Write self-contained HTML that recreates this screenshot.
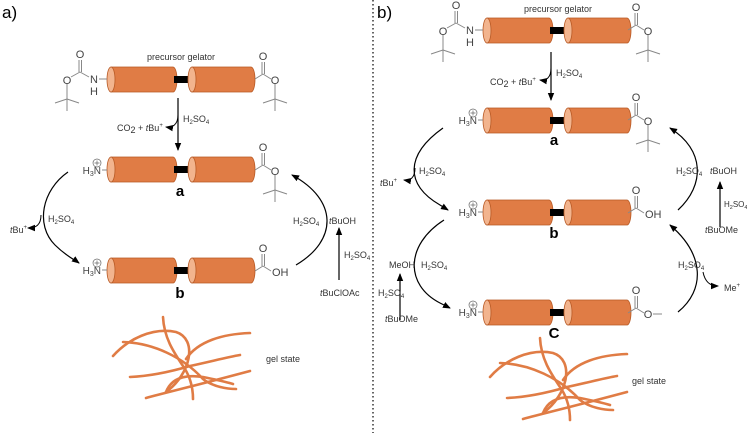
<!DOCTYPE html>
<html><head><meta charset="utf-8"><style>
html,body{margin:0;padding:0;background:#fff;}
svg{display:block;font-family:"Liberation Sans",sans-serif;}
</style></head><body>
<svg width="747" height="433" viewBox="0 0 747 433" xmlns="http://www.w3.org/2000/svg">
<defs>
<g id="cyl">
 <path d="M4,0 H66 A4,12.5 0 0 1 66,25 H4 Z" fill="#e07c45" stroke="#b85a25" stroke-width="0.8"/>
 <ellipse cx="4" cy="12.5" rx="4" ry="12.5" fill="#f2b48e" stroke="#b85a25" stroke-width="0.8"/>
 <rect x="67" y="9" width="18" height="7" fill="#000"/>
 <path d="M85,0 H144 A4,12.5 0 0 1 144,25 H85 Z" fill="#e07c45" stroke="#b85a25" stroke-width="0.8"/>
 <ellipse cx="85" cy="12.5" rx="4" ry="12.5" fill="#f2b48e" stroke="#b85a25" stroke-width="0.8"/>
</g>
<g id="ester" stroke="#888" stroke-width="1" fill="none">
 <path d="M0,0 L8,-5 M7,-5 V-17 M9.5,-5 V-17 M8,-5 L16,0 M20,5 V20 M20,20 L8,24 M20,20 L32,24 M20,20 V32"/>
 <text x="8" y="-19" font-size="11" fill="#444" stroke="none" text-anchor="middle">O</text>
 <text x="20" y="5" font-size="11" fill="#444" stroke="none" text-anchor="middle">O</text>
</g>
<g id="acid" stroke="#888" stroke-width="1" fill="none">
 <path d="M0,0 L8,-5 M7,-5 V-17 M9.5,-5 V-17 M8,-5 L16,0"/>
 <text x="8" y="-19" font-size="11" fill="#444" stroke="none" text-anchor="middle">O</text>
 <text x="17" y="5" font-size="11" fill="#444" stroke="none">OH</text>
</g>
<g id="mester" stroke="#888" stroke-width="1" fill="none">
 <path d="M0,0 L8,-5 M7,-5 V-17 M9.5,-5 V-17 M8,-5 L16,0 M25,1 H34"/>
 <text x="8" y="-19" font-size="11" fill="#444" stroke="none" text-anchor="middle">O</text>
 <text x="20" y="5" font-size="11" fill="#444" stroke="none" text-anchor="middle">O</text>
</g>
<g id="boc" stroke="#888" stroke-width="1" fill="none">
 <path d="M0,0 H-8 M-18,-2 L-27,-7 M-28,-7 V-19 M-25.5,-7 V-19 M-27,-7 L-36,-2 M-40,5 V20 M-40,20 L-52,24 M-40,20 L-28,24 M-40,20 V32"/>
 <text x="-13" y="4" font-size="11" fill="#444" stroke="none" text-anchor="middle">N</text>
 <text x="-13" y="16" font-size="11" fill="#444" stroke="none" text-anchor="middle">H</text>
 <text x="-27" y="-21" font-size="11" fill="#444" stroke="none" text-anchor="middle">O</text>
 <text x="-40" y="5" font-size="11" fill="#444" stroke="none" text-anchor="middle">O</text>
</g>
<g id="amine">
 <path d="M0,0 H-5" stroke="#888" stroke-width="1"/>
 <text x="-6" y="4" font-size="10" fill="#444" text-anchor="end">H<tspan font-size="7" dy="2">3</tspan><tspan dy="-2">N</tspan></text>
 <circle cx="-10" cy="-7" r="4" fill="none" stroke="#666" stroke-width="0.7"/>
 <path d="M-12.5,-7 H-7.5 M-10,-9.5 V-4.5" stroke="#666" stroke-width="0.7"/>
</g>
<g id="gel" fill="none" stroke="#e07c45" stroke-width="2.6" stroke-linecap="round">
 <path d="M490,377 C505,360 530,348 553,353 C575,360 568,395 543,413"/>
 <path d="M500,363 C530,364 560,378 580,400 C590,408 605,410 613,410"/>
 <path d="M540,338 C541,360 552,375 562,390 C568,400 570,410 570,420"/>
 <path d="M563,380 C575,362 600,355 627,354"/>
 <path d="M507,398 C530,397 550,392 567,387 C590,382 605,378 617,376"/>
 <path d="M523,419 C545,413 567,408 627,392"/>
 <path d="M543,413 C548,400 560,395 580,398 C600,402 610,405 610,405"/>
</g>
<marker id="ah" markerWidth="8" markerHeight="8" refX="7" refY="4" orient="auto" markerUnits="userSpaceOnUse">
 <path d="M0,0.8 L8,4 L0,7.2 Z" fill="#000"/>
</marker>
</defs>

<text x="2" y="18" font-size="17" fill="#000">a)</text>
<text x="377" y="18" font-size="17" fill="#000">b)</text>
<line x1="373" y1="0" x2="373" y2="433" stroke="#000" stroke-width="1.2" stroke-dasharray="1.5,2.5"/>

<g font-size="9" fill="#333">
<!-- PANEL A -->
<text x="181" y="60" text-anchor="middle">precursor gelator</text>
<use href="#cyl" x="107" y="67"/>
<use href="#boc" x="107" y="79"/>
<use href="#ester" x="255" y="79"/>
<path d="M178,98 V150" stroke="#000" stroke-width="1.2" marker-end="url(#ah)"/>
<path d="M178,115 C178,125 172,128 166,127" stroke="#000" stroke-width="1" fill="none" marker-end="url(#ah)"/>
<text x="183" y="122">H<tspan font-size="6" dy="2">2</tspan><tspan dy="-2">SO</tspan><tspan font-size="6" dy="2">4</tspan></text>
<text x="117" y="131">CO<tspan dy="2">2</tspan><tspan dy="-2"> + </tspan><tspan font-style="italic">t</tspan>Bu<tspan font-size="6" dy="-4">+</tspan></text>

<use href="#cyl" x="107" y="157"/>
<use href="#amine" x="107" y="170"/>
<use href="#ester" x="255" y="170"/>
<text x="180" y="196" font-size="15" font-weight="bold" fill="#000" text-anchor="middle">a</text>

<use href="#cyl" x="107" y="258"/>
<use href="#amine" x="107" y="270"/>
<use href="#acid" x="255" y="271"/>
<text x="180" y="298" font-size="15" font-weight="bold" fill="#000" text-anchor="middle">b</text>

<path d="M68,172 C42,190 35,225 55,245 C66,256 75,260 79,263" stroke="#000" stroke-width="1.2" fill="none" marker-end="url(#ah)"/>
<path d="M41,215 C41,225 36,228 28,228" stroke="#000" stroke-width="1" fill="none" marker-end="url(#ah)"/>
<text x="48" y="222">H<tspan font-size="6" dy="2">2</tspan><tspan dy="-2">SO</tspan><tspan font-size="6" dy="2">4</tspan></text>
<text x="10" y="233"><tspan font-style="italic">t</tspan>Bu<tspan font-size="6" dy="-4">+</tspan></text>

<path d="M296,265 C338,240 338,200 292,175" stroke="#000" stroke-width="1.2" fill="none" marker-end="url(#ah)"/>
<text x="293" y="224">H<tspan font-size="6" dy="2">2</tspan><tspan dy="-2">SO</tspan><tspan font-size="6" dy="2">4</tspan></text>
<text x="329" y="224"><tspan font-style="italic">t</tspan>BuOH</text>
<path d="M339,280 V228" stroke="#000" stroke-width="1.2" marker-end="url(#ah)"/>
<text x="344" y="258">H<tspan font-size="6" dy="2">2</tspan><tspan dy="-2">SO</tspan><tspan font-size="6" dy="2">4</tspan></text>
<text x="320" y="296"><tspan font-style="italic">t</tspan>BuClOAc</text>

<g transform="translate(-377,-21)"><use href="#gel"/></g>
<text x="266" y="362">gel state</text>

<!-- PANEL B -->
<text x="558" y="12" text-anchor="middle">precursor gelator</text>
<use href="#cyl" x="483" y="18"/>
<use href="#boc" x="483" y="30"/>
<use href="#ester" x="628" y="30"/>
<path d="M551,52 V100" stroke="#000" stroke-width="1.2" marker-end="url(#ah)"/>
<path d="M551,68 C551,78 546,81 540,80" stroke="#000" stroke-width="1" fill="none" marker-end="url(#ah)"/>
<text x="556" y="76">H<tspan font-size="6" dy="2">2</tspan><tspan dy="-2">SO</tspan><tspan font-size="6" dy="2">4</tspan></text>
<text x="490" y="85">CO<tspan dy="2">2</tspan><tspan dy="-2"> + </tspan><tspan font-style="italic">t</tspan>Bu<tspan font-size="6" dy="-4">+</tspan></text>

<use href="#cyl" x="483" y="108"/>
<use href="#amine" x="483" y="120"/>
<use href="#ester" x="628" y="120"/>
<text x="554" y="145" font-size="15" font-weight="bold" fill="#000" text-anchor="middle">a</text>

<use href="#cyl" x="483" y="200"/>
<use href="#amine" x="483" y="212"/>
<use href="#acid" x="628" y="213"/>
<text x="554" y="238" font-size="15" font-weight="bold" fill="#000" text-anchor="middle">b</text>

<use href="#cyl" x="483" y="300"/>
<use href="#amine" x="483" y="312"/>
<use href="#mester" x="628" y="313"/>
<text x="554" y="338" font-size="15" font-weight="bold" fill="#000" text-anchor="middle">C</text>

<path d="M443,128 C405,155 405,185 440,205 L448,210" stroke="#000" stroke-width="1.2" fill="none" marker-end="url(#ah)"/>
<path d="M415,168 C415,178 410,181 404,180" stroke="#000" stroke-width="1" fill="none" marker-end="url(#ah)"/>
<text x="419" y="174">H<tspan font-size="6" dy="2">2</tspan><tspan dy="-2">SO</tspan><tspan font-size="6" dy="2">4</tspan></text>
<text x="380" y="186"><tspan font-style="italic">t</tspan>Bu<tspan font-size="6" dy="-4">+</tspan></text>

<path d="M444,220 C405,245 405,285 440,303 L450,308" stroke="#000" stroke-width="1.2" fill="none" marker-end="url(#ah)"/>
<text x="421" y="268">H<tspan font-size="6" dy="2">2</tspan><tspan dy="-2">SO</tspan><tspan font-size="6" dy="2">4</tspan></text>
<text x="389" y="268">MeOH</text>
<path d="M400,320 V274" stroke="#000" stroke-width="1.2" marker-end="url(#ah)"/>
<text x="378" y="296">H<tspan font-size="6" dy="2">2</tspan><tspan dy="-2">SO</tspan><tspan font-size="6" dy="2">4</tspan></text>
<text x="385" y="322"><tspan font-style="italic">t</tspan>BuOMe</text>

<path d="M678,210 C705,185 705,150 670,128" stroke="#000" stroke-width="1.2" fill="none" marker-end="url(#ah)"/>
<text x="676" y="174">H<tspan font-size="6" dy="2">2</tspan><tspan dy="-2">SO</tspan><tspan font-size="6" dy="2">4</tspan></text>
<text x="710" y="174"><tspan font-style="italic">t</tspan>BuOH</text>
<path d="M720,227 V182" stroke="#000" stroke-width="1.2" marker-end="url(#ah)"/>
<text x="724" y="207" font-size="8">H<tspan font-size="5.5" dy="2">2</tspan><tspan dy="-2">SO</tspan><tspan font-size="5.5" dy="2">4</tspan></text>
<text x="705" y="233"><tspan font-style="italic">t</tspan>BuOMe</text>

<path d="M678,312 C705,290 705,255 670,225" stroke="#000" stroke-width="1.2" fill="none" marker-end="url(#ah)"/>
<path d="M703,272 C705,282 710,286 718,286" stroke="#000" stroke-width="1" fill="none" marker-end="url(#ah)"/>
<text x="678" y="268">H<tspan font-size="6" dy="2">2</tspan><tspan dy="-2">SO</tspan><tspan font-size="6" dy="2">4</tspan></text>
<text x="724" y="291">Me<tspan font-size="6" dy="-4">+</tspan></text>

<use href="#gel"/>
<text x="632" y="384">gel state</text>
</g>
</svg>
</body></html>
